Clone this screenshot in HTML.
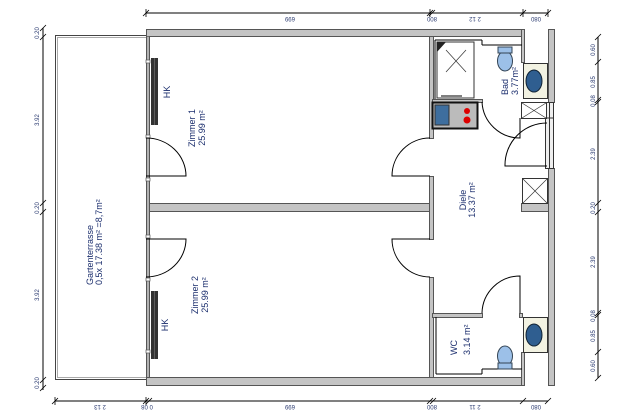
<!DOCTYPE html>
<html><head><meta charset="utf-8"><style>
html,body{margin:0;padding:0;background:#fff;}
svg{display:block;}
.t{font-family:"Liberation Sans",sans-serif;fill:#1c2f6e;}
.d{font-family:"Liberation Sans",sans-serif;font-size:6px;fill:#2a3a70;}
.w{fill:#c4c4c4;stroke:#555;stroke-width:1;}
.l{stroke:#000;stroke-width:1;fill:none;}
</style></head><body>
<svg width="619" height="412" viewBox="0 0 619 412" xmlns="http://www.w3.org/2000/svg">
<!-- terrace -->
<rect x="55.5" y="35.5" width="91" height="344" fill="#fff" stroke="#444" stroke-width="1"/>
<rect x="57.5" y="37.5" width="89" height="340" fill="none" stroke="#aaa" stroke-width="1"/>

<!-- walls -->
<rect class="w" x="146.5" y="29.5" width="378" height="7"/>
<rect class="w" x="146.5" y="377.5" width="378" height="8"/>
<rect class="w" x="146.5" y="203.5" width="284" height="8"/>
<rect class="w" x="548.5" y="29.5" width="6" height="73"/>
<rect class="w" x="548.5" y="168.5" width="6" height="217"/>
<rect class="w" x="521.5" y="29.5" width="3" height="33"/>
<rect class="w" x="521.5" y="352.5" width="3" height="33"/>
<rect class="w" x="521.5" y="203.5" width="27" height="8"/>
<!-- left wall windows -->
<rect x="146.5" y="36.5" width="3" height="341" fill="#ddd" stroke="#555"/>
<line x1="148" y1="36" x2="148" y2="377" stroke="#888"/>
<g fill="#fff" stroke="#555" stroke-width="0.7">
<rect x="146" y="60" width="4" height="3"/><rect x="146" y="135" width="4" height="3"/>
<rect x="146" y="178" width="4" height="3"/><rect x="146" y="235" width="4" height="3"/>
<rect x="146" y="278" width="4" height="3"/><rect x="146" y="350" width="4" height="3"/>
</g>
<!-- corridor wall -->
<rect class="w" x="429.5" y="36.5" width="4" height="102"/>
<rect class="w" x="429.5" y="176.5" width="4" height="63"/>
<rect class="w" x="429.5" y="277.5" width="4" height="100"/>
<!-- bath walls -->
<rect class="w" x="432.5" y="99.5" width="50" height="3"/>
<rect class="w" x="432.5" y="313.5" width="50" height="4"/>
<rect class="w" x="519.5" y="313.5" width="3" height="4"/>
<line class="l" x1="436" y1="317" x2="436" y2="374"/>
<line class="l" x1="436" y1="374" x2="482" y2="374"/>
<line class="l" x1="482" y1="374" x2="482" y2="369"/>
<line class="l" x1="482" y1="369" x2="522" y2="369"/>
<line class="l" x1="435" y1="40" x2="435" y2="99"/>
<line class="l" x1="435" y1="40" x2="482" y2="40"/>
<line class="l" x1="482" y1="40" x2="482" y2="45"/>
<line class="l" x1="482" y1="45" x2="522" y2="45"/>
<!-- right window -->
<rect x="545.5" y="102.5" width="8" height="66" fill="#eee" stroke="#333"/>
<line x1="549.5" y1="103" x2="549.5" y2="168" stroke="#333"/>
<line x1="545" y1="118" x2="554" y2="118" stroke="#333"/>

<!-- doors -->
<path class="l" d="M146 176 H186 A40 38 0 0 0 146 138"/>
<path class="l" d="M146 239 H186 A40 38 0 0 1 146 277"/>
<path class="l" d="M430 176 H392 A38 38 0 0 1 430 138"/>
<path class="l" d="M430 239 H392 A38 38 0 0 0 430 277"/>
<path class="l" d="M482 102 A38 38 0 0 0 520 138 V118"/>
<path class="l" d="M547 166 H505 A42 42 0 0 1 547 123"/>
<path class="l" d="M482 313 A38 38 0 0 1 520 276 V313"/>

<!-- radiators -->
<rect x="151" y="58" width="7" height="67" fill="#333"/>
<rect x="151" y="291" width="7" height="68" fill="#333"/>
<g stroke="#888" stroke-width="0.5">
<line x1="154.5" y1="58" x2="154.5" y2="125"/><line x1="154.5" y1="291" x2="154.5" y2="359"/>
</g>

<!-- shower -->
<rect x="437" y="42" width="37" height="56" fill="#fff" stroke="#333"/>
<path d="M437 42 L446 42 L437 52Z" fill="#222"/>
<line x1="446" y1="50" x2="466" y2="72" stroke="#333" stroke-width="0.7"/>
<line x1="466" y1="50" x2="446" y2="72" stroke="#333" stroke-width="0.7"/>
<line x1="441" y1="96" x2="462" y2="96" stroke="#555" stroke-width="1.5"/>
<!-- kitchen -->
<rect x="432.5" y="102.5" width="45" height="26" fill="#bbb" stroke="#111" stroke-width="2"/>
<rect x="435" y="105" width="14" height="20" fill="#3e6e9e" stroke="#333"/>
<circle cx="467" cy="111" r="3" fill="#d00"/><circle cx="467" cy="120" r="3.5" fill="#d00"/>
<!-- toilets -->
<ellipse cx="505" cy="61" rx="7.5" ry="10" fill="#9cc0e8" stroke="#345"/>
<rect x="498" y="47" width="14" height="6" fill="#9cc0e8" stroke="#345"/>
<ellipse cx="505" cy="356" rx="7.5" ry="10" fill="#9cc0e8" stroke="#345"/>
<rect x="498" y="363" width="14" height="6" fill="#9cc0e8" stroke="#345"/>
<!-- basins -->
<rect x="523.5" y="63.5" width="24" height="35" fill="#f2f2e2" stroke="#333"/>
<ellipse cx="534" cy="81" rx="8" ry="11" fill="#2f5e90" stroke="#123"/>
<rect x="523.5" y="317.5" width="24" height="35" fill="#f2f2e2" stroke="#333"/>
<ellipse cx="534" cy="335" rx="8" ry="11" fill="#2f5e90" stroke="#123"/>
<!-- X boxes -->
<rect x="521.5" y="102.5" width="25" height="16" fill="#fff" stroke="#333"/>
<path d="M522 103 L546 118 M546 103 L522 118" stroke="#333" stroke-width="0.7"/>
<rect x="522.5" y="178.5" width="25" height="25" fill="#fff" stroke="#333"/>
<path d="M523 179 L547 203 M547 179 L523 203" stroke="#333" stroke-width="0.7"/>

<!-- dimension lines -->
<g stroke="#000" stroke-width="1">
<line x1="146" y1="13" x2="548" y2="13"/>
<line x1="55" y1="401" x2="548" y2="401"/>
<line x1="43" y1="28" x2="43" y2="390"/>
<line x1="598" y1="37" x2="598" y2="378"/>
</g>
<g stroke="#000" stroke-width="0.8">
<path d="M143 16 l6 -6 M146 9 v8 M427 16 l6 -6 M430 9 v8 M429 16 l6 -6 M520 16 l6 -6 M523 9 v8 M545 16 l6 -6 M548 9 v8"/>
<path d="M52 404 l6 -6 M55 397 v8 M143 404 l6 -6 M146 397 v8 M146 404 l6 -6 M427 404 l6 -6 M430 404 l6 -6 M520 404 l6 -6 M545 404 l6 -6"/>
<path d="M40 31 l6 -6 M40 40 l6 -6 M40 206 l6 -6 M40 215 l6 -6 M40 383 l6 -6 M40 391 l6 -6"/>
<path d="M595 40 l6 -6 M595 65 l6 -6 M595 103 l6 -6 M595 105 l6 -6 M595 206 l6 -6 M595 215 l6 -6 M595 316 l6 -6 M595 318 l6 -6 M595 355 l6 -6 M595 381 l6 -6"/>
</g>
<g class="d" text-anchor="middle">
<text transform="translate(290,17) rotate(180)">699</text>
<text transform="translate(432,17) rotate(180)">800</text>
<text transform="translate(475,17) rotate(180)">2 12</text>
<text transform="translate(536,17) rotate(180)">080</text>
<text transform="translate(100,405) rotate(180)">2 13</text>
<text transform="translate(147,405) rotate(180)">0 08</text>
<text transform="translate(290,405) rotate(180)">699</text>
<text transform="translate(432,405) rotate(180)">800</text>
<text transform="translate(475,405) rotate(180)">2 11</text>
<text transform="translate(536,405) rotate(180)">080</text>
<text transform="translate(39,33) rotate(-90)">0.20</text>
<text transform="translate(39,120) rotate(-90)">3.92</text>
<text transform="translate(39,208) rotate(-90)">0.20</text>
<text transform="translate(39,295) rotate(-90)">3.92</text>
<text transform="translate(39,383) rotate(-90)">0.20</text>
<text transform="translate(595,50) rotate(-90)">0.60</text>
<text transform="translate(595,82) rotate(-90)">0.85</text>
<text transform="translate(595,101) rotate(-90)">0.08</text>
<text transform="translate(595,154) rotate(-90)">2.39</text>
<text transform="translate(595,208) rotate(-90)">0.20</text>
<text transform="translate(595,262) rotate(-90)">2.39</text>
<text transform="translate(595,316) rotate(-90)">0.08</text>
<text transform="translate(595,336) rotate(-90)">0.85</text>
<text transform="translate(595,366) rotate(-90)">0.60</text>
</g>

<!-- labels -->
<g class="t" font-size="9">
<text transform="translate(170,92) rotate(-90)" text-anchor="middle">HK</text>
<text transform="translate(168,325) rotate(-90)" text-anchor="middle">HK</text>
<text transform="translate(195,128) rotate(-90)" text-anchor="middle">Zimmer 1</text>
<text transform="translate(205,128) rotate(-90)" text-anchor="middle">25.99 m²</text>
<text transform="translate(198,295) rotate(-90)" text-anchor="middle">Zimmer 2</text>
<text transform="translate(208,295) rotate(-90)" text-anchor="middle">25.99 m²</text>
<text transform="translate(93,285) rotate(-90)">Gartenterrasse</text>
<text transform="translate(102,285) rotate(-90)">0,5x 17.38 m²  =8,7m²</text>
<text transform="translate(466,200) rotate(-90)" text-anchor="middle">Diele</text>
<text transform="translate(475,200) rotate(-90)" text-anchor="middle">13.37 m²</text>
<text transform="translate(508,95) rotate(-90)">Bad</text>
<text transform="translate(518,95) rotate(-90)">3.77m²</text>
<text transform="translate(457,355) rotate(-90)">WC</text>
<text transform="translate(470,355) rotate(-90)">3.14 m²</text>
</g>
</svg>
</body></html>
